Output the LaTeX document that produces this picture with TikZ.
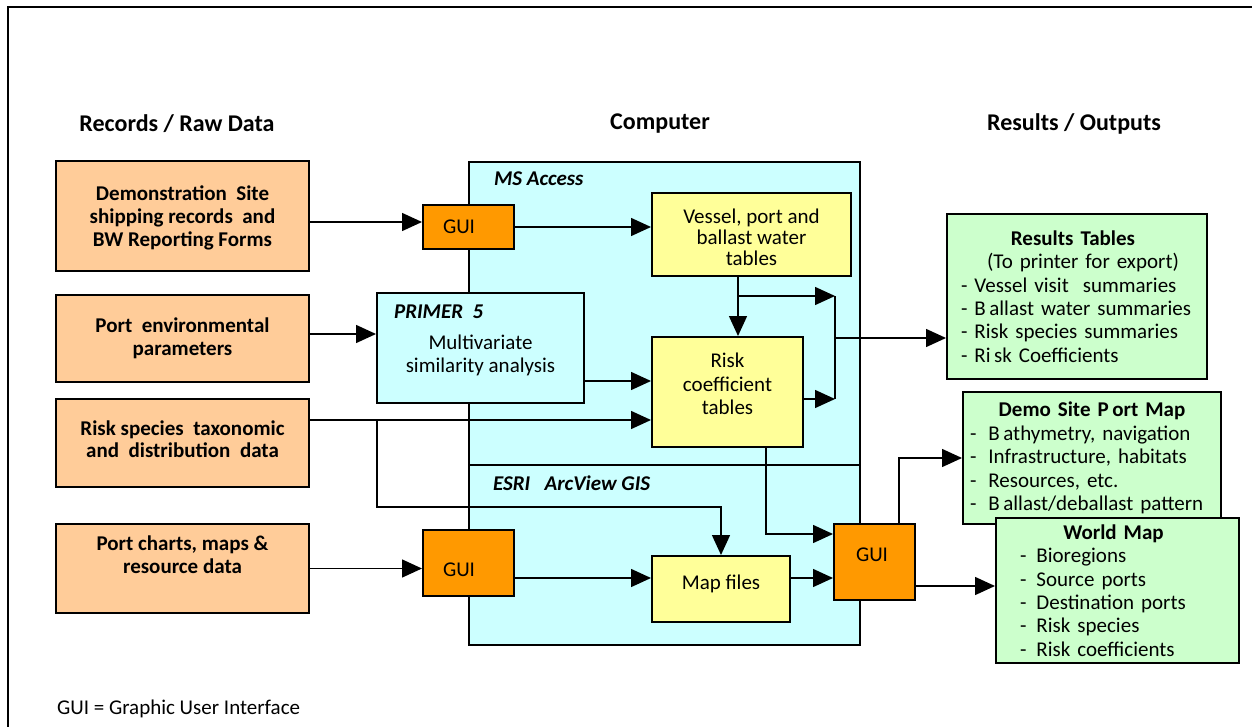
\documentclass[tikz,border=0pt]{standalone}
\usepackage{fontspec}
\setmainfont{Carlito}
\usetikzlibrary{arrows.meta,positioning}

\definecolor{rawfill}{HTML}{FFCC99}
\definecolor{guifill}{HTML}{FF9900}
\definecolor{appfill}{HTML}{CCFFFF}
\definecolor{tabfill}{HTML}{FFFF99}
\definecolor{outfill}{HTML}{CCFFCC}

\begin{document}
\begin{tikzpicture}[x=1pt,y=-1pt,line width=1.5pt,
  >={Triangle[length=20pt,width=18pt]},
  font=\fontsize{21}{23.5}\selectfont,
  box/.style={draw,line width=2pt,inner sep=0pt,align=center},
  raw/.style={box,fill=rawfill,minimum width=253pt,
    font=\fontsize{21}{22.7}\selectfont\bfseries},
  gui/.style={box,fill=guifill,minimum width=91pt},
  app/.style={box,fill=appfill},
  tab/.style={box,fill=tabfill},
  outbox/.style={box,fill=outfill,align=left,
    font=\fontsize{21}{23.4}\selectfont},
  head/.style={font=\fontsize{24}{28}\selectfont\bfseries},
  tag/.style={anchor=west,font=\fontsize{21}{24}\selectfont\bfseries\itshape}]

  \clip (0,0) rectangle (1252,727);
  \draw[line width=2pt] (8,7) rectangle (1280,760);

  % column heads
  \node[head] (rawhead)  at (177,124)  {Records / Raw Data};
  \node[head] (comphead) at (660,124)  {Computer};
  \node[head] (outhead)  at (1074,124) {Results / Outputs};

  % records / raw data
  \node[raw,minimum height=110pt,text depth=0pt] (demo) at (182.5,216)
       {Demonstration\ \ Site\\shipping records\ \ and\\BW Reporting Forms};
  \node[raw,minimum height=87pt]  (portenv) [below=22pt of demo]
       {Port\ \ environmental\\parameters};
  \node[raw,minimum height=88pt,text depth=8pt]  (risksp)  [below=15pt of portenv]
       {Risk species\ \ taxonomic\\and\ \ distribution\ \ data};
  \node[raw,minimum height=89pt,text depth=28pt] (charts)  [below=35pt of risksp]
       {Port charts, maps \&\\resource data};

  % computer
  \node[app,anchor=north west,minimum width=391pt,minimum height=303pt] (access)  at (468,161) {};
  \node[app,anchor=north west,minimum width=391pt,minimum height=180pt] (arcview) at (468,464) {};
  \node[tag] (accesstag)  at (490,179) {MS Access};
  \node[tag] (arcviewtag) at (489,483) {ESRI\ \ \ ArcView GIS};

  \node[gui,minimum height=44pt] (gui1) at (468.5,227) {\hspace*{-19pt}GUI};
  \node[tab,minimum width=199pt,minimum height=83pt,font=\fontsize{21}{20.7}\selectfont]
       (vessel) at (751.5,234.5) {\rule{0pt}{20.5pt}Vessel, port and\\ballast water\\tables};
  \node[app,minimum width=207pt,minimum height=110pt] (primer) at (480.5,348)
       {\rule{0pt}{29.5pt}Multivariate\\similarity analysis};
  \node[tag] (primertag) at (390,312) {PRIMER\ \ 5};
  \node[tab,minimum width=151pt,minimum height=110pt,text depth=16pt] (riskco) at (727.5,392)
       {Risk\\coefficient\\tables};
  \node[gui,minimum height=66pt] (gui2) at (468.5,563) {\hspace*{-19pt}\rule{0pt}{27.3pt}GUI};
  \node[tab,minimum width=138pt,minimum height=66pt,text depth=14.5pt] (map) at (721,589) {Map files};
  \node[gui,minimum width=81pt,minimum height=76pt,text depth=14pt] (gui3) at (874.5,562)
       {\hspace*{-5pt}GUI};

  % results / outputs
  \node[outbox,inner xsep=14pt,text width=232pt,minimum height=165pt] (results) at (1077,296.5)
       {\makebox[232pt]{\hspace{-8pt}\textbf{Results Tables}}\\
        \makebox[232pt]{\hspace{12pt}(To printer for export)}\\
        - Vessel visit\ \ summaries\\
        - B\,allast water summaries\\
        - Risk species summaries\\
        - Ri\,sk Coefficients};
  \node[outbox,inner xsep=7pt,text width=244pt,minimum height=132pt] (portmap) at (1092,458)
       {\makebox[244pt]{\textbf{Demo Site P\,ort Map}}\\
        -\hspace{12pt}B\,athymetry, navigation\\
        -\hspace{12pt}Infrastructure, habitats\\
        -\hspace{12pt}Resources, etc.\\
        -\hspace{12pt}B\,allast/deballast pattern};
  \node[outbox,inner xsep=24pt,text width=195pt,minimum height=145pt] (world) at (1117.5,590.5)
       {\makebox[195pt]{\hspace{-8pt}\textbf{World Map}}\\
        -\hspace{10pt}Bioregions\\
        -\hspace{10pt}Source ports\\
        -\hspace{10pt}Destination ports\\
        -\hspace{10pt}Risk species\\
        -\hspace{10pt}Risk coefficients};

  \node[anchor=west] (note) at (53,709) {GUI = Graphic User Interface};

  % connectors
  \coordinate (tap)  at (738,296);
  \coordinate (bus)  at (835,338);
  \coordinate (fork) at (377,420);

  \draw[->] ([yshift=-6pt]demo.east) -- ([yshift=-6pt]demo.east -| gui1.west);
  \draw[->] (gui1.east) -- (gui1.east -| vessel.west);
  \draw[->] (vessel.south -| tap) -- (riskco.north -| tap);
  \draw[->] (tap) -- (tap -| bus);
  \draw[->] ([yshift=-7pt]riskco.east) -- ([yshift=-7pt]riskco.east -| bus);
  \draw (tap -| bus) -- ([yshift=-7pt]riskco.east -| bus);
  \draw[->] (bus) -- (bus -| results.west);

  \draw[->] ([yshift=4.5pt]portenv.east) -- ([yshift=4.5pt]portenv.east -| primer.west);
  \draw[->] ([yshift=23pt]primer.south east) -- ([yshift=23pt]primer.south east -| riskco.west);
  \draw[->] (fork -| risksp.east) -- (fork -| riskco.west);
  \draw[->] (fork) |- ([yshift=48pt]map.north) -- (map.north);

  \draw[->] (charts.east) -- (charts.east -| gui2.west);
  \draw[->] ([yshift=-15pt]gui2.east) -- ([yshift=-15pt]gui2.east -| map.west);
  \draw[->] ([yshift=11pt]map.east) -- ([yshift=11pt]map.east -| gui3.west);
  \draw[->] ([xshift=38.5pt]riskco.south) |- ([yshift=28pt]gui3.west);
  \draw[->] ([xshift=24.5pt]gui3.north) |- (portmap.west);
  \draw[->] ([yshift=-24pt]gui3.east) -- ([yshift=-24pt]gui3.east -| world.west);
\end{tikzpicture}
\end{document}
